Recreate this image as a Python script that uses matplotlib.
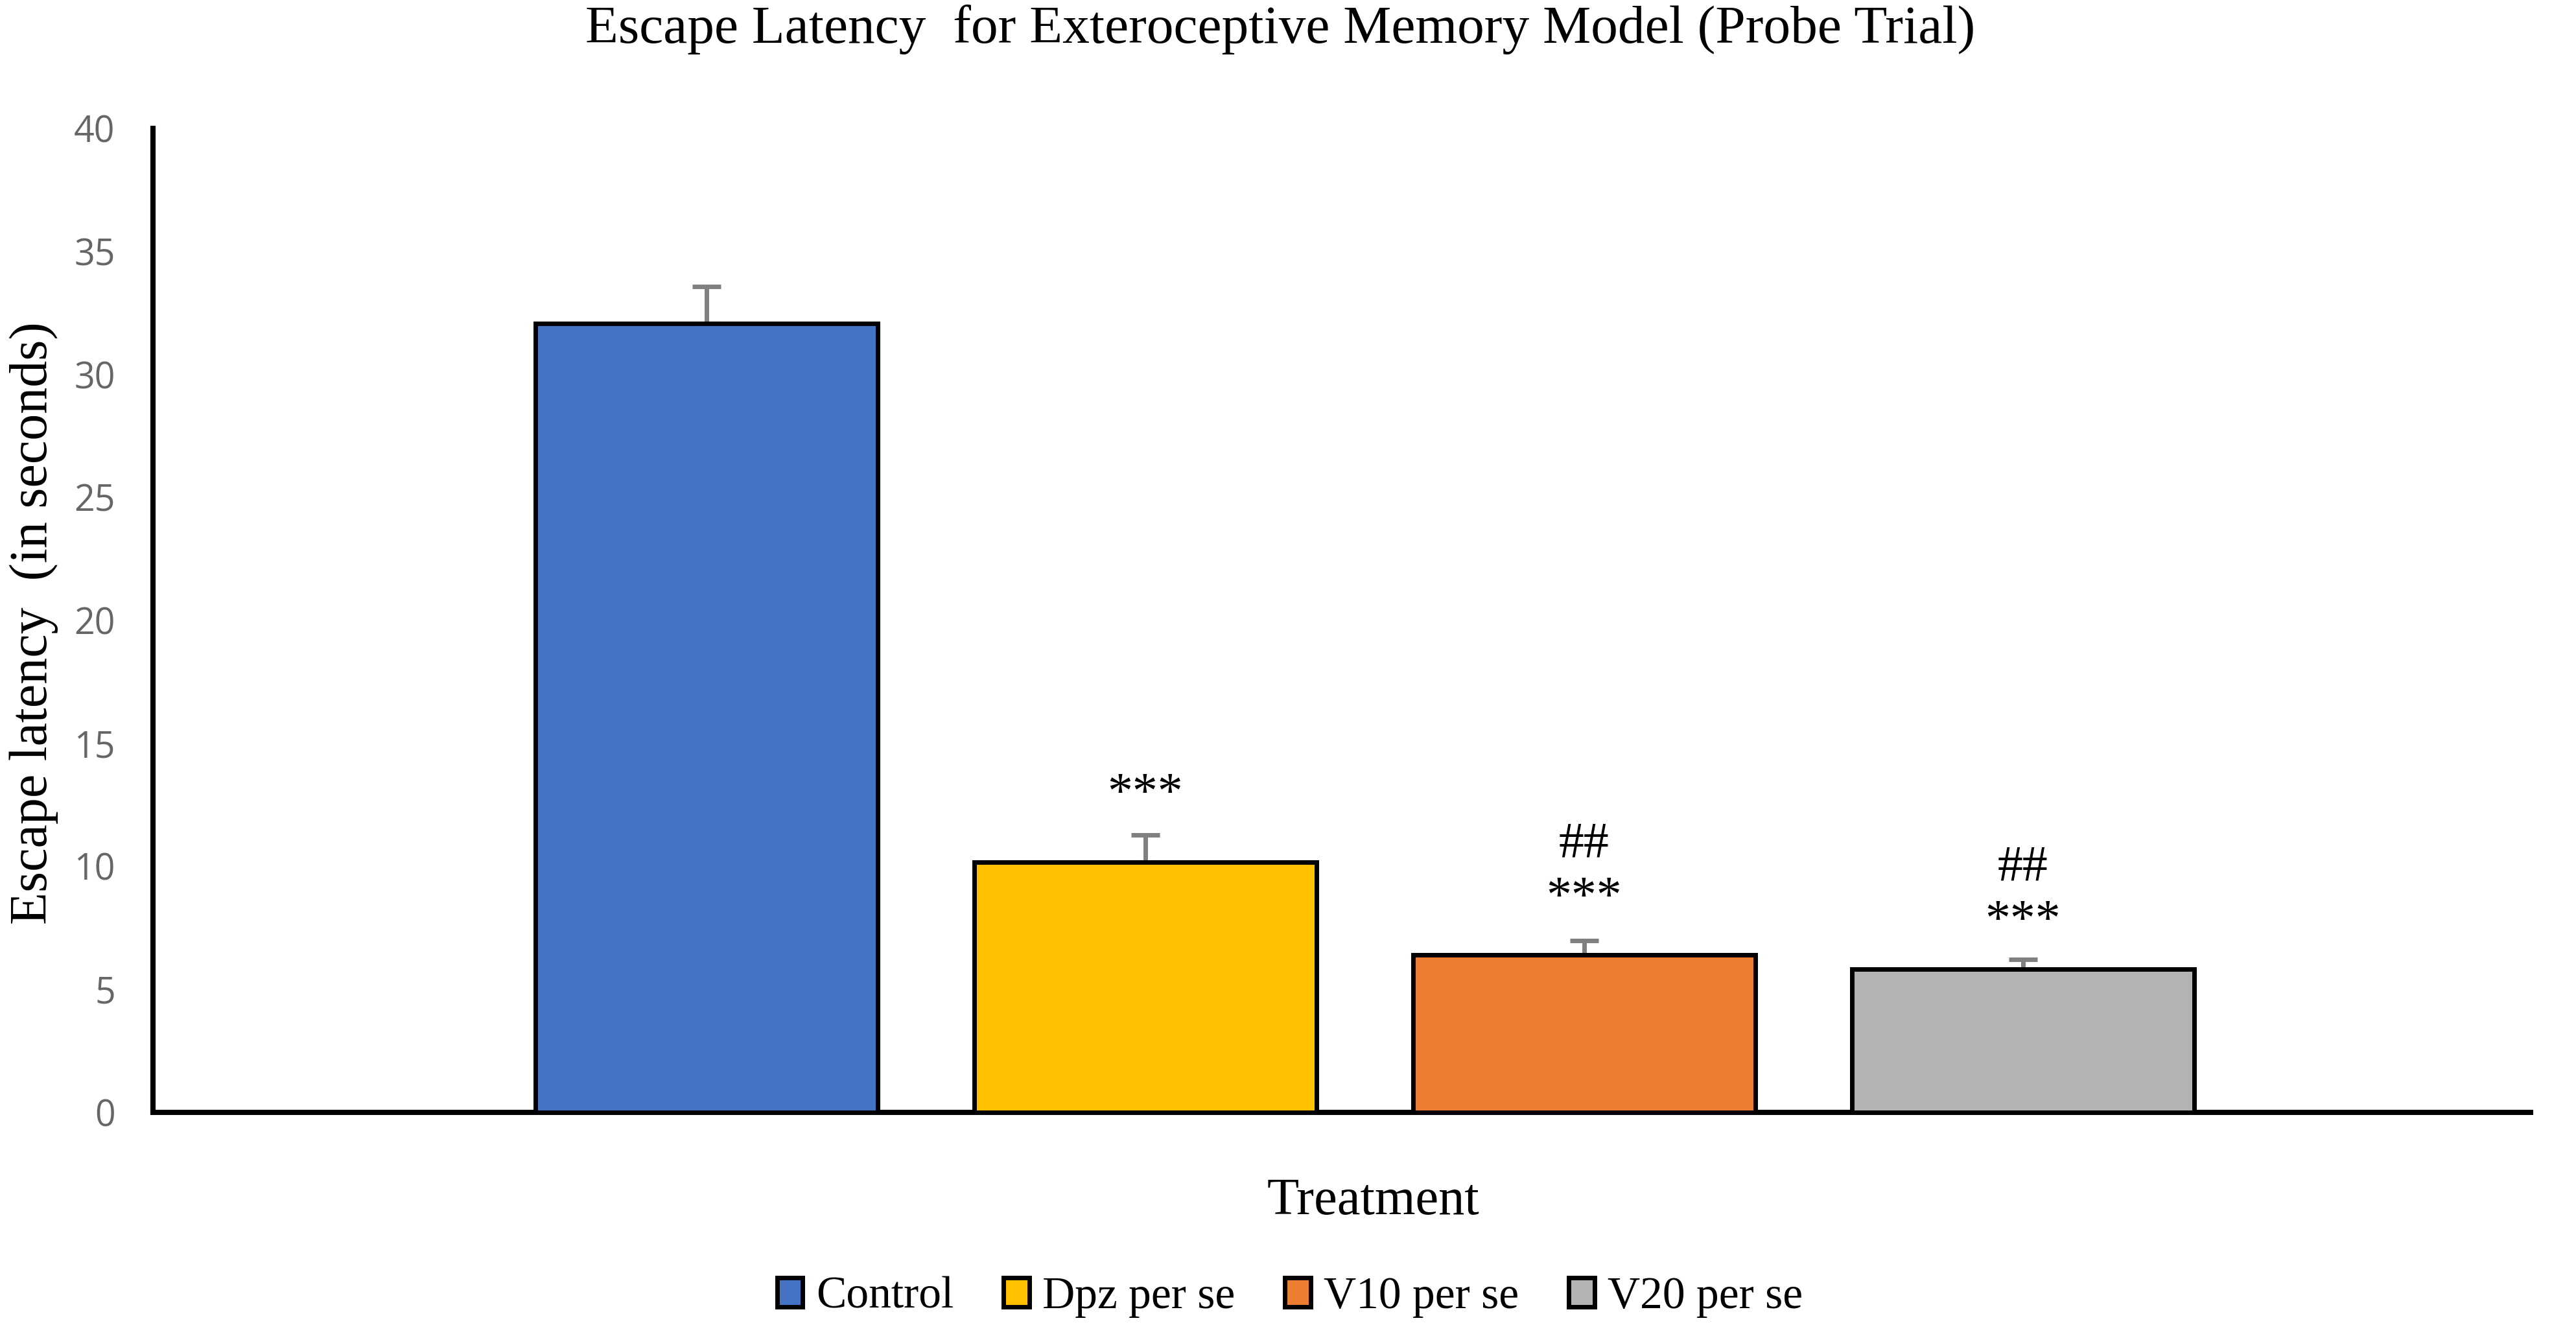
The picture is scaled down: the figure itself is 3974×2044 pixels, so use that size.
import matplotlib
matplotlib.use("Agg")
import matplotlib.pyplot as plt
from matplotlib.patches import Patch

categories = ["Control", "Dpz per se", "V10 per se", "V20 per se"]
means = [32.06, 10.16, 6.41, 5.83]
errors = [1.50, 1.13, 0.56, 0.40]
colors = ["#4472C4", "#FFC000", "#ED7D31", "#B3B3B3"]
sig_stars = ["", "***", "***", "***"]
star_y = [None, 12.9, 8.7, 7.75]
sig_hash = ["", "", "##", "##"]
hash_y = [None, None, 10.9, 9.95]
yticks = [0, 5, 10, 15, 20, 25, 30, 35, 40]

serif = ["Liberation Serif", "DejaVu Serif"]

fig = plt.figure(figsize=(39.74, 20.44), dpi=100)
ax = fig.add_axes([0.0594, 0.1605, 0.9230, 0.7426])

x = list(range(len(categories)))
ax.bar(x, means, width=0.78, color=colors, edgecolor="black", linewidth=5, zorder=3)
ax.errorbar(x, means, yerr=[[0] * len(errors), errors], fmt="none",
            ecolor="#7F7F7F", elinewidth=5, capsize=15.5, capthick=5, zorder=2)

for xi, s, yy in zip(x, sig_stars, star_y):
    if s:
        ax.text(xi, yy, s, ha="center", va="center", fontsize=56, family=serif)
for xi, s, yy in zip(x, sig_hash, hash_y):
    if s:
        ax.text(xi, yy, s, ha="center", va="center", fontsize=56, family=serif)

ax.set_xlim(-1.261, 4.157)
ax.set_ylim(0, 40)
ax.set_yticks(yticks)
ax.set_yticklabels([str(t) for t in yticks], color="#666666", fontsize=40,
                   family=["Open Sans", "DejaVu Sans"])
ax.tick_params(axis="y", length=0, pad=42)
ax.set_xticks([])
for sp in ["top", "right"]:
    ax.spines[sp].set_visible(False)
ax.spines["left"].set_linewidth(5.8)
ax.spines["bottom"].set_linewidth(5.8)

fig.text(0.497, 0.9775, "Escape Latency  for Exteroceptive Memory Model (Probe Trial)",
         ha="center", va="center", fontsize=60, family=serif)
fig.text(0.0131, 0.530, "Escape latency  (in seconds)", rotation=90,
         ha="center", va="center", fontsize=59, family=serif)
fig.text(0.533, 0.0934, "Treatment", ha="center", va="center", fontsize=58, family=serif)

handles = [Patch(facecolor=c, edgecolor="black", linewidth=5) for c in colors]
fig.legend(handles, categories, loc="center", bbox_to_anchor=(0.5008, 0.021), ncol=4,
           frameon=False, prop={"family": serif, "size": 50},
           handlelength=0.57, handleheight=0.63, handletextpad=0.3, columnspacing=1.1,
           borderpad=0.0)

fig.savefig("out.png", dpi=100)
